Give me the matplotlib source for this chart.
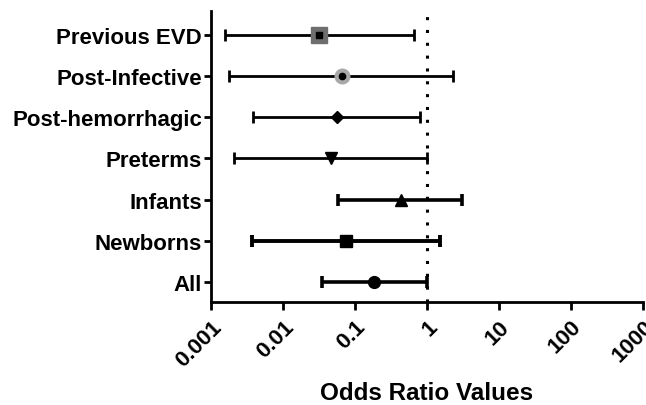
import matplotlib
matplotlib.use("Agg")
import matplotlib.pyplot as plt
import numpy as np

plt.rcParams['font.family'] = ['Liberation Sans', 'DejaVu Sans']
plt.rcParams['font.weight'] = 'bold'

categories = ["All", "Newborns", "Infants", "Preterms", "Post-hemorrhagic", "Post-Infective", "Previous EVD"]
odds = [0.184, 0.075, 0.435, 0.046, 0.056, 0.066, 0.0316]
lower = [0.0348, 0.0037, 0.058, 0.0021, 0.0038, 0.0018, 0.00156]
upper = [1.0, 1.51, 3.06, 1.0, 0.80, 2.3, 0.66]
xtick_vals = [0.001, 0.01, 0.1, 1, 10, 100, 1000]
xtick_labels = ["0.001", "0.01", "0.1", "1", "10", "100", "1000"]

markers = ['o', 's', '^', 'v', 'D', 'o', 's']
msizes = [8.5, 8.5, 8.5, 8.5, 6.5, 4.5, 5]
lws = [2.6, 2.8, 2.6, 2.0, 2.0, 2.0, 2.0]

fig = plt.figure(figsize=(6.46, 4.06), dpi=100)
ax = fig.add_axes([0.3266, 0.2537, 0.6688, 0.7167])
ax.set_xscale('log')
ax.set_xlim(0.001, 1000)
ax.set_ylim(-0.49, 6.58)

ax.axvline(1, color='black', linestyle=(0, (1, 3.2)), linewidth=2.2, zorder=1)

ypos = np.arange(len(categories))
for i in range(len(categories)):
    ax.errorbar([odds[i]], [ypos[i]],
                xerr=[[odds[i] - lower[i]], [upper[i] - odds[i]]],
                fmt='none', ecolor='black', elinewidth=lws[i], capsize=4.3, capthick=lws[i], zorder=2)
# background halos for the two upper groups
ax.plot([odds[6]], [ypos[6]], marker='s', markersize=11, color='#6e6e6e', linestyle='none', zorder=3)
ax.plot([odds[5]], [ypos[5]], marker='o', markersize=10.5, color='#a8a8a8', linestyle='none', zorder=3)
for i in range(len(categories)):
    ax.plot([odds[i]], [ypos[i]], marker=markers[i], markersize=msizes[i], color='black', linestyle='none', zorder=4)

ax.set_yticks(ypos)
ax.set_yticklabels(categories, fontsize=16, fontweight='bold')
ax.set_xticks(xtick_vals)
ax.set_xticklabels(xtick_labels, fontsize=16, fontweight='bold', rotation=45, ha='right', rotation_mode='anchor')
ax.xaxis.set_minor_locator(matplotlib.ticker.NullLocator())
ax.set_xlabel("Odds Ratio Values", fontsize=17.5, fontweight='bold', labelpad=8)

for s in ['top', 'right']:
    ax.spines[s].set_visible(False)
for s in ['left', 'bottom']:
    ax.spines[s].set_linewidth(2)
ax.tick_params(axis='x', length=6, width=2, direction='out', pad=4)
ax.tick_params(axis='y', length=5, width=2, direction='out', pad=1.5)

fig.savefig("out.png", dpi=100)
